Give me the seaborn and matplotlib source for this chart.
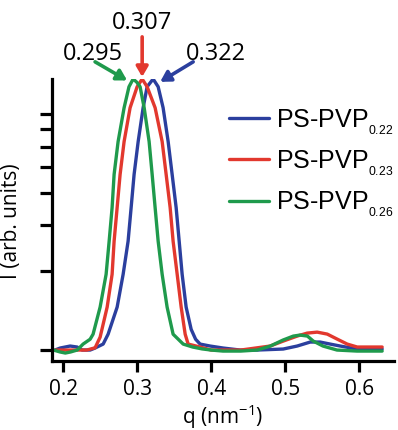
import numpy as np
import pandas as pd
import matplotlib
matplotlib.use("Agg")
import matplotlib.pyplot as plt
import seaborn as sns
from matplotlib.ticker import NullLocator
from matplotlib.lines import Line2D

# ---- data ----
series_names = ["PS-PVP$_{0.22}$", "PS-PVP$_{0.23}$", "PS-PVP$_{0.26}$"]
colors = ["#2b3f9e", "#e2382e", "#1f9a4c"]

q_022 = [0.189, 0.196, 0.2095, 0.219, 0.2257, 0.2365, 0.2432, 0.2541, 0.2608, 0.273,
         0.2811, 0.2878, 0.2919, 0.2959, 0.3014, 0.3081, 0.3135, 0.3216, 0.3284, 0.3351,
         0.3419, 0.3473, 0.3527, 0.3568, 0.3608, 0.3662, 0.3730, 0.3790, 0.3851, 0.3986,
         0.4162, 0.4392, 0.4622, 0.4973, 0.5162, 0.5338, 0.5473, 0.5608, 0.5743, 0.5973, 0.631]
I_022 = [1.00, 1.018, 1.036, 1.027, 1.00, 1.00, 1.018, 1.054, 1.15, 1.46,
         1.95, 2.61, 3.51, 4.70, 6.28, 8.46, 10.18, 10.9, 10.18, 8.46,
         6.28, 4.70, 3.51, 2.61, 1.95, 1.46, 1.20, 1.10, 1.054, 1.036,
         1.018, 1.00, 1.00, 1.009, 1.036, 1.073, 1.073, 1.054, 1.036, 1.009, 1.009]

q_023 = [0.190, 0.205, 0.220, 0.232, 0.2432, 0.250, 0.2595, 0.2662, 0.2689, 0.273,
         0.277, 0.2824, 0.2905, 0.300, 0.3068, 0.3135, 0.3243, 0.3338, 0.3392, 0.3446,
         0.3486, 0.3541, 0.3595, 0.3649, 0.3689, 0.3851, 0.400, 0.440, 0.4797, 0.4973,
         0.5162, 0.5297, 0.5432, 0.5568, 0.5703, 0.5838, 0.5973, 0.631]
I_023 = [1.00, 1.00, 1.00, 1.00, 1.02, 1.12, 1.46, 1.95, 2.61, 3.51,
         4.70, 6.28, 8.46, 10.18, 10.9, 10.18, 8.46, 6.28, 4.70, 3.51,
         2.61, 1.95, 1.46, 1.15, 1.054, 1.027, 1.00, 1.00, 1.036, 1.082,
         1.131, 1.161, 1.171, 1.151, 1.101, 1.054, 1.027, 1.027]

q_026 = [0.187, 0.196, 0.203, 0.210, 0.219, 0.227, 0.2365, 0.2405, 0.250, 0.2581,
         0.2622, 0.2662, 0.2689, 0.2743, 0.2824, 0.289, 0.2946, 0.2995, 0.304, 0.3095,
         0.3162, 0.3203, 0.3243, 0.3284, 0.3338, 0.3405, 0.3486, 0.3622, 0.375, 0.3878,
         0.400, 0.416, 0.440, 0.462, 0.480, 0.497, 0.511, 0.520, 0.530, 0.538,
         0.551, 0.570, 0.597, 0.631]
I_026 = [1.00, 0.983, 0.974, 0.983, 1.00, 1.054, 1.10, 1.15, 1.46, 1.95,
         2.61, 3.51, 4.70, 6.28, 8.46, 10.18, 10.9, 10.6, 10.18, 8.46,
         6.28, 4.70, 3.51, 2.61, 1.95, 1.46, 1.15, 1.054, 1.027, 1.01,
         1.00, 0.991, 0.991, 1.00, 1.036, 1.092, 1.131, 1.141, 1.131, 1.082,
         1.036, 1.00, 0.991, 0.991]

peak_labels = ["0.322", "0.307", "0.295"]
x_ticks = [0.2, 0.3, 0.4, 0.5, 0.6]
x_tick_labels = ["0.2", "0.3", "0.4", "0.5", "0.6"]
y_ticks = [1, 2, 3, 4, 5, 6, 7, 8]

df = pd.concat([
    pd.DataFrame({"q": q_022, "I": I_022, "sample": series_names[0]}),
    pd.DataFrame({"q": q_023, "I": I_023, "sample": series_names[1]}),
    pd.DataFrame({"q": q_026, "I": I_026, "sample": series_names[2]}),
], ignore_index=True)

# ---- style ----
sns.set_style("ticks")
plt.rcParams["font.family"] = ["Open Sans", "DejaVu Sans"]
plt.rcParams["mathtext.fontset"] = "custom"
plt.rcParams["mathtext.rm"] = "Liberation Sans"
plt.rcParams["mathtext.default"] = "regular"
for k in ["text.color", "axes.labelcolor", "xtick.color", "ytick.color", "axes.edgecolor"]:
    plt.rcParams[k] = "black"

W, H = 398, 431
fig = plt.figure(figsize=(W / 100, H / 100), dpi=100)
ax_l, ax_r, ax_t, ax_b = 52, 394, 80, 362
ax = fig.add_axes([ax_l / W, 1 - ax_b / H, (ax_r - ax_l) / W, (ax_b - ax_t) / H])

sns.lineplot(data=df, x="q", y="I", hue="sample", hue_order=series_names,
             palette=colors, estimator=None, sort=False, linewidth=2.4, ax=ax,
             legend=False)

ax.set_yscale("log")
ax.set_xlim(0.185, 0.647)
ax.set_ylim(0.908, 10.9)
ax.set_yticks(y_ticks)
ax.yaxis.set_minor_locator(NullLocator())
ax.set_yticklabels([])
ax.set_xticks(x_ticks)
ax.set_xticklabels(x_tick_labels)

for s in ["top", "right"]:
    ax.spines[s].set_visible(False)
for s in ["left", "bottom"]:
    ax.spines[s].set_linewidth(2.3)
    ax.spines[s].set_color("black")
ax.tick_params(axis="y", direction="out", length=9, width=2.3, color="black")
ax.tick_params(axis="x", direction="out", length=8, width=2.3, color="black",
               labelsize=15, pad=4, labelcolor="black")

ax.set_xlabel("q (nm$^{-1}$)", fontsize=15, labelpad=2, color="black")
ax.set_ylabel("I (arb. units)", fontsize=15, color="black")
ax.yaxis.set_label_coords(-0.088, 0.5)

# legend
handles = [Line2D([], [], color=c, lw=2.4) for c in colors]
leg = ax.legend(handles, [n.replace("_{", "_{{}_{").replace("}$", "}}$") for n in series_names],
                loc="upper left", bbox_to_anchor=(229 / W, 1 - 108 / H),
                bbox_transform=fig.transFigure, frameon=False,
                prop={"family": "Liberation Sans", "size": 18},
                handlelength=1.6, handletextpad=0.3, labelspacing=0.48,
                borderpad=0, borderaxespad=0)
for t in leg.get_texts():
    t.set_color("black")

# annotations with arrows
text_pos = [(0.4068, 13.72), (0.3068, 18.03), (0.2405, 13.72)]
arrow_tail = [(0.3757, 12.68), (0.3068, 15.8), (0.2432, 12.68)]
arrow_head = [(0.3311, 10.63), (0.3068, 11.1), (0.2865, 10.76)]
for lab, tp, tail, head, c in zip(peak_labels, text_pos, arrow_tail, arrow_head, colors):
    ax.text(tp[0], tp[1], lab, fontsize=17, ha="center", va="center", clip_on=False,
            color="black")
    ax.annotate("", xy=head, xytext=tail, xycoords="data", textcoords="data",
                annotation_clip=False,
                arrowprops=dict(arrowstyle="-|>,head_length=0.6,head_width=0.35",
                                color=c, lw=2.6, shrinkA=0, shrinkB=0))

fig.savefig("out.png", dpi=100)
